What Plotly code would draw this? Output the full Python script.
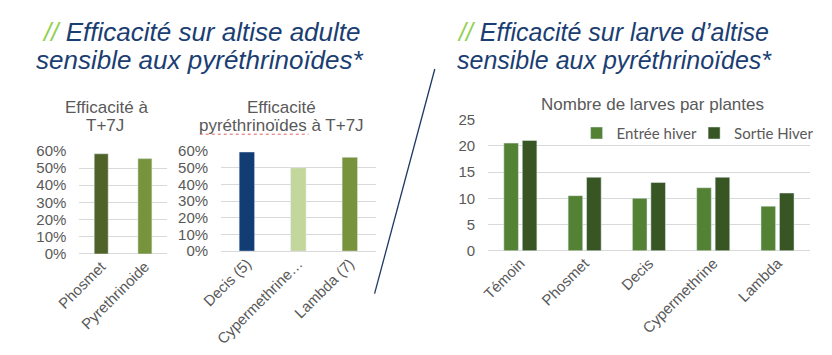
import plotly.graph_objects as go

W, H = 832, 355

# ---- data ----
cat1 = ["Phosmet", "Pyrethrinoide"]
val1 = [0.583, 0.555]
col1 = ["#4F6228", "#77933C"]

cat2 = ["Decis (5)", "Cypermethrine…", "Lambda (7)"]
val2 = [0.595, 0.50, 0.563]
col2 = ["#123D74", "#C3D69B", "#77933C"]

cat3 = ["Témoin", "Phosmet", "Decis", "Cypermethrine", "Lambda"]
entree = [20.5, 10.5, 10, 12, 8.5]
sortie = [21, 14, 13, 14, 11]
series3 = ["Entrée hiver", "Sortie Hiver"]
col3 = ["#548235", "#375623"]

pct_ticks = [0, 0.1, 0.2, 0.3, 0.4, 0.5, 0.6]
num_ticks = [0, 5, 10, 15, 20, 25]


def X(px):
    return px / W


def Y(py):
    return 1 - py / H


GRAY = "#595959"
GRID = "#D9D9D9"
NAVY = "#1B3E72"
FONT = "Liberation Sans, Arial, sans-serif"

fig = go.Figure()

fig.add_trace(go.Bar(x=cat1, y=val1, marker_color=col1, width=0.32,
                     xaxis="x", yaxis="y", showlegend=False))
fig.add_trace(go.Bar(x=cat2, y=val2, marker_color=col2, width=0.30,
                     xaxis="x2", yaxis="y2", showlegend=False))
fig.add_trace(go.Bar(x=cat3, y=entree, name=series3[0], marker_color=col3[0],
                     width=0.227, offset=-0.257, xaxis="x3", yaxis="y3", legend="legend"))
fig.add_trace(go.Bar(x=cat3, y=sortie, name=series3[1], marker_color=col3[1],
                     width=0.227, offset=0.030, xaxis="x3", yaxis="y3", legend="legend2"))

xcommon = dict(type="category", tickangle=-45, showgrid=False, showline=False,
               ticks="", tickfont=dict(family=FONT, size=15, color=GRAY))
ycommon = dict(showgrid=True, gridcolor=GRID, gridwidth=1, zeroline=True,
               zerolinecolor=GRID, zerolinewidth=1, showline=False, ticks="",
               tickfont=dict(family=FONT, size=15, color=GRAY), ticklabelstandoff=12)

legfont = dict(family="Lato, sans-serif", size=15, color=GRAY)
fig.update_layout(
    width=W, height=H,
    margin=dict(l=0, r=0, t=0, b=0),
    paper_bgcolor="white", plot_bgcolor="white",
    barmode="overlay",
    font=dict(family=FONT, color=GRAY),
    xaxis=dict(domain=[X(57), X(147)], anchor="y", **xcommon),
    yaxis=dict(domain=[Y(257.3), Y(149)], anchor="x", range=[0, 0.6],
               tickvals=pct_ticks, tickformat=".0%", **ycommon),
    xaxis2=dict(domain=[X(203), X(362)], anchor="y2", **xcommon),
    yaxis2=dict(domain=[Y(254.3), Y(149.3)], anchor="x2", range=[0, 0.6],
                tickvals=pct_ticks, tickformat=".0%", **ycommon),
    xaxis3=dict(domain=[X(478), X(809)], anchor="y3", **xcommon),
    yaxis3=dict(domain=[Y(254), Y(116)], anchor="x3", range=[0, 25],
                tickvals=num_ticks, **ycommon),
    legend=dict(orientation="h", x=X(569), xanchor="left", y=Y(130.5), yanchor="middle",
                bgcolor="rgba(0,0,0,0)", font=legfont, itemclick=False),
    legend2=dict(orientation="h", x=X(690), xanchor="left", y=Y(130.5), yanchor="middle",
                 bgcolor="rgba(0,0,0,0)", font=legfont, itemclick=False),
)

anns = []


def txt(t, x, y, size, color, xanchor="center"):
    anns.append(dict(text=t, x=X(x), y=Y(y), xref="paper", yref="paper",
                     xanchor=xanchor, yanchor="middle", showarrow=False,
                     font=dict(family=FONT, size=size, color=color)))


GREEN = "#92D050"
txt(f"<i><span style='color:{GREEN}'>//</span> Efficacité sur altise adulte</i>", 16, 24.3, 26, NAVY, "left")
txt("<i>sensible aux pyréthrinoïdes*</i>", 10, 53.3, 26, NAVY, "left")
txt(f"<i><span style='color:{GREEN}'>//</span> Efficacité sur larve d’altise</i>", 444, 24.6, 25, NAVY, "left")
txt("<i>sensible aux pyréthrinoïdes*</i>", 444, 53.6, 25, NAVY, "left")

txt("Efficacité à", 84.5, 103, 17, GRAY)
txt("T+7J", 83.5, 122.5, 17, GRAY)
txt("Efficacité", 265, 103, 17, GRAY)
txt("pyréthrinoïdes à T+7J", 265, 122.5, 17, GRAY)
txt("Nombre de larves par plantes", 647, 100, 17, GRAY)

shapes = [
    dict(type="line", xref="paper", yref="paper", x0=X(423), y0=Y(63), x1=X(361), y1=Y(299),
         line=dict(color="#1F3864", width=1.3)),
    dict(type="line", xref="paper", yref="paper", x0=X(181), y0=Y(131.5), x1=X(293), y1=Y(131.5),
         line=dict(color="#E06060", width=1, dash="dot")),
]
fig.update_layout(annotations=anns, shapes=shapes)

fig.write_html("out.html")
